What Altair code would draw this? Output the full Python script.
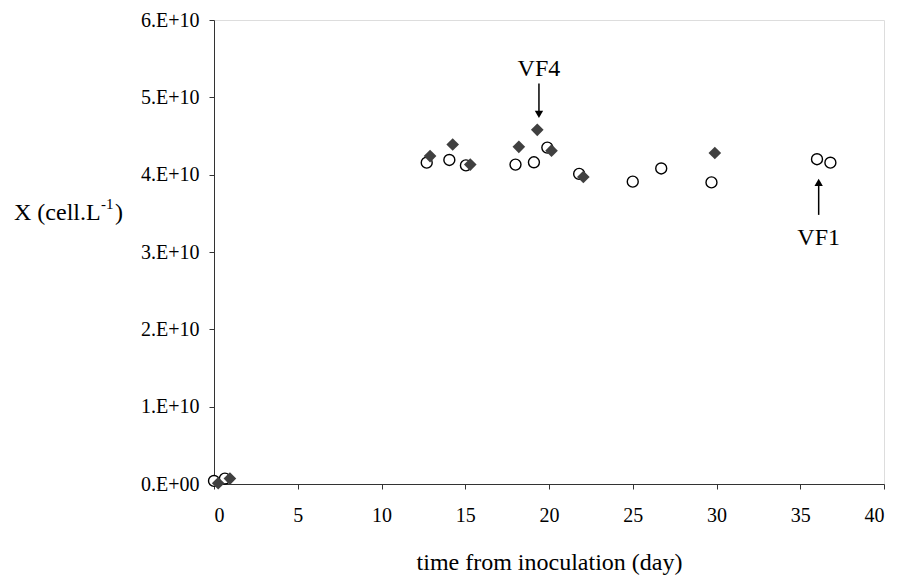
import altair as alt
import pandas as pd

# Series 1: open circles
circ_t = [0.0, 0.65, 12.7, 14.05, 15.04, 18.0, 19.1, 19.9, 21.8, 25.0, 26.7, 29.7, 36.0, 36.8]
circ_x = [0.04e10, 0.07e10, 4.155e10, 4.19e10, 4.12e10, 4.13e10, 4.16e10, 4.35e10, 4.01e10,
          3.91e10, 4.08e10, 3.90e10, 4.20e10, 4.155e10]
# Series 2: filled diamonds
diam_t = [0.25, 0.95, 12.9, 14.25, 15.3, 18.2, 19.3, 20.15, 22.05, 29.9]
diam_x = [0.01e10, 0.07e10, 4.24e10, 4.39e10, 4.13e10, 4.36e10, 4.58e10, 4.31e10, 3.97e10, 4.28e10]

# Annotations
ann_label = ["VF4", "VF1"]
ann_t = [19.4, 36.1]
ann_label_y = [5.36e10, 3.18e10]
ann_from_y = [5.18e10, 3.48e10]
ann_to_y = [4.78e10, 3.90e10]
ann_head = ["triangle-down", "triangle-up"]

y_ticks = [0, 1e10, 2e10, 3e10, 4e10, 5e10, 6e10]
x_ticks = [0, 5, 10, 15, 20, 25, 30, 35, 40]

FONT = "Liberation Serif"

circ_df = pd.DataFrame({"t": circ_t, "X": circ_x})
diam_df = pd.DataFrame({"t": diam_t, "X": diam_x})
ann_df = pd.DataFrame({"label": ann_label, "t": ann_t, "ly": ann_label_y,
                       "y1": ann_from_y, "y2": ann_to_y, "head": ann_head})

xscale = alt.Scale(domain=[0, 40], nice=False)
yscale = alt.Scale(domain=[0, 6e10], nice=False)

xaxis = alt.Axis(values=x_ticks, title="time from inoculation (day)", grid=False,
                 domainColor="#333", tickColor="#333", tickSize=5, labelFont=FONT,
                 labelFontSize=20, labelColor="black", labelPadding=16,
                 titleFont=FONT, titleFontSize=24, titleFontWeight="normal",
                 titleColor="black", titlePadding=25)
yaxis = alt.Axis(values=y_ticks, title=None, grid=False, domainColor="#333",
                 tickColor="#333", tickSize=5, labelFont=FONT, labelFontSize=20,
                 labelColor="black", labelPadding=10,
                 labelExpr="datum.value == 0 ? '0.E+00' : format(datum.value/1e10, 'd') + '.E+10'")

base_x = alt.X("t:Q", scale=xscale, axis=xaxis)
base_y = alt.Y("X:Q", scale=yscale, axis=yaxis)

circles = alt.Chart(circ_df).mark_point(shape="circle", filled=False, color="black",
                                        strokeWidth=1.4, size=120, fill="white",
                                        fillOpacity=1, opacity=1).encode(x=base_x, y=base_y)
diamonds = alt.Chart(diam_df).mark_point(shape="diamond", filled=True, color="#404040",
                                         size=160, opacity=1).encode(
    x=alt.X("t:Q", scale=xscale), y=alt.Y("X:Q", scale=yscale))

arrows = alt.Chart(ann_df).mark_rule(color="black", strokeWidth=1.5).encode(
    x=alt.X("t:Q", scale=xscale), y=alt.Y("y1:Q", scale=yscale), y2="y2:Q")
heads = alt.Chart(ann_df).mark_point(filled=True, color="black", size=70, opacity=1).encode(
    x=alt.X("t:Q", scale=xscale), y=alt.Y("y2:Q", scale=yscale),
    shape=alt.Shape("head:N", scale=None))
labels = alt.Chart(ann_df).mark_text(font=FONT, fontSize=24, color="black",
                                     baseline="middle", align="center").encode(
    x=alt.X("t:Q", scale=xscale), y=alt.Y("ly:Q", scale=yscale), text="label:N")

ytitle_df = pd.DataFrame({"txt": ["X (cell.L", "-1", ")"],
                          "px": [-200, -113, -99], "py": [193, 184, 193],
                          "fs": [24, 15, 24]})
ytitle = alt.Chart(ytitle_df).mark_text(font=FONT, color="black", align="left",
                                        baseline="middle").encode(
    x=alt.X("px:Q", scale=None), y=alt.Y("py:Q", scale=None), text="txt:N",
    size=alt.Size("fs:Q", scale=None))

chart = alt.layer(circles, diamonds, arrows, heads, labels, ytitle).properties(
    width=670, height=464,
    autosize=alt.AutoSizeParams(type="none"),
    padding={"left": 206, "top": 12, "right": 8, "bottom": 93},
).configure_view(stroke="#999999", strokeWidth=1).configure(background="white")

chart.save("out.html", embed_options={"renderer": "svg", "actions": False})
